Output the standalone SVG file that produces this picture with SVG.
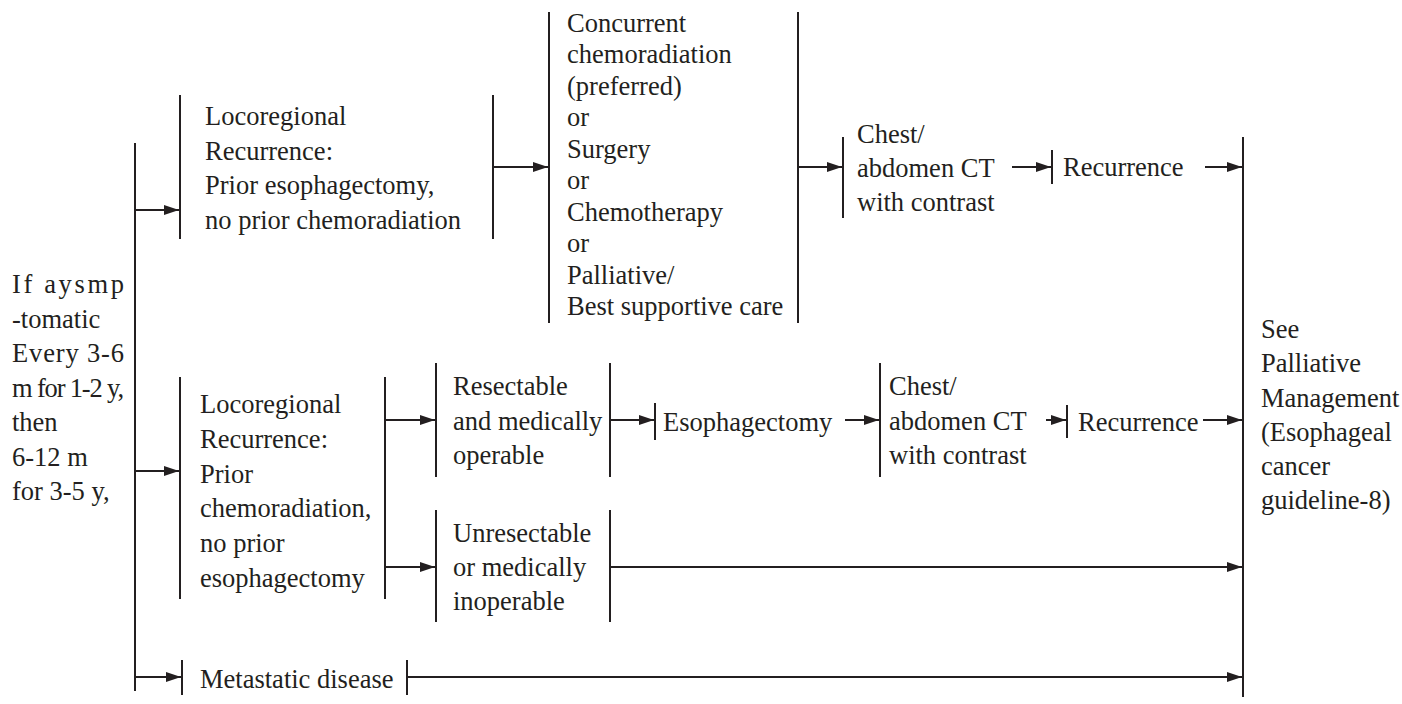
<svg xmlns="http://www.w3.org/2000/svg" width="1402" height="704" viewBox="0 0 1402 704" font-family="'Liberation Serif', 'Times New Roman', Tinos, 'DejaVu Serif', serif">
<style>
text{font-family:'Liberation Serif','Times New Roman',Tinos,'DejaVu Serif',serif;font-size:26.5px;fill:#231f20}
.bar{stroke:#231f20;stroke-width:2;fill:none}
.c{stroke:#231f20;stroke-width:2;fill:none;marker-end:url(#ah)}
.l{stroke:#231f20;stroke-width:2;fill:none}
</style>
<defs>
<marker id="ah" markerUnits="userSpaceOnUse" markerWidth="16" markerHeight="12" refX="15" refY="5" orient="auto">
<path d="M0,0 L15,5 L0,10 z" fill="#231f20"/>
</marker>
</defs>
<rect width="1402" height="704" fill="#fff"/>
<g id="connectors">
<line class="l" x1="135" y1="143" x2="135" y2="691"/>
<line class="c" x1="135" y1="210" x2="179" y2="210"/>
<line class="c" x1="493" y1="167" x2="548" y2="167"/>
<line class="c" x1="798" y1="167" x2="842" y2="167"/>
<line class="c" x1="1012" y1="167" x2="1051" y2="167"/>
<line class="c" x1="1205" y1="167" x2="1242" y2="167"/>
<line class="c" x1="135" y1="471" x2="179" y2="471"/>
<line class="c" x1="385" y1="420" x2="435" y2="420"/>
<line class="c" x1="385" y1="567" x2="435" y2="567"/>
<line class="c" x1="610" y1="420" x2="654" y2="420"/>
<line class="c" x1="845" y1="420" x2="879" y2="420"/>
<line class="c" x1="1046" y1="420" x2="1066" y2="420"/>
<line class="c" x1="1203" y1="420" x2="1242" y2="420"/>
<line class="c" x1="610" y1="567" x2="1242" y2="567"/>
<line class="c" x1="135" y1="677" x2="181" y2="677"/>
<line class="c" x1="407" y1="677" x2="1242" y2="677"/>
</g>
<g id="n-followup">
<text x="12" y="293" textLength="112" lengthAdjust="spacing">If aysmp</text>
<text x="12" y="328">-tomatic</text>
<text x="12" y="362" textLength="112" lengthAdjust="spacing">Every 3-6</text>
<text x="12" y="397" textLength="112" lengthAdjust="spacing">m for 1-2 y,</text>
<text x="12" y="431">then</text>
<text x="12" y="466">6-12 m</text>
<text x="12" y="500">for 3-5 y,</text>
</g>
<g id="n-loco1">
<line class="bar" x1="180" y1="95" x2="180" y2="239"/>
<line class="bar" x1="493" y1="95" x2="493" y2="239"/>
<text x="205" y="125">Locoregional</text>
<text x="205" y="160">Recurrence:</text>
<text x="205" y="194">Prior esophagectomy,</text>
<text x="205" y="229">no prior chemoradiation</text>
</g>
<g id="n-options">
<line class="bar" x1="549" y1="12" x2="549" y2="323"/>
<line class="bar" x1="798" y1="12" x2="798" y2="323"/>
<text x="567" y="32">Concurrent</text>
<text x="567" y="63">chemoradiation</text>
<text x="567" y="95">(preferred)</text>
<text x="567" y="126">or</text>
<text x="567" y="158">Surgery</text>
<text x="567" y="189">or</text>
<text x="567" y="221">Chemotherapy</text>
<text x="567" y="252">or</text>
<text x="567" y="284">Palliative/</text>
<text x="567" y="315">Best supportive care</text>
</g>
<g id="n-ct1">
<line class="bar" x1="843" y1="137" x2="843" y2="218"/>
<text x="857" y="143">Chest/</text>
<text x="857" y="177">abdomen CT</text>
<text x="857" y="211">with contrast</text>
</g>
<g id="n-rec1">
<line class="bar" x1="1052" y1="150" x2="1052" y2="184"/>
<text x="1063" y="176">Recurrence</text>
</g>
<g id="n-palliative">
<line class="bar" x1="1243" y1="137" x2="1243" y2="697"/>
<text x="1261" y="338">See</text>
<text x="1261" y="372">Palliative</text>
<text x="1261" y="407">Management</text>
<text x="1261" y="441">(Esophageal</text>
<text x="1261" y="475">cancer</text>
<text x="1261" y="509">guideline-8)</text>
</g>
<g id="n-loco2">
<line class="bar" x1="180" y1="377" x2="180" y2="599"/>
<line class="bar" x1="385" y1="377" x2="385" y2="599"/>
<text x="200" y="413">Locoregional</text>
<text x="200" y="448">Recurrence:</text>
<text x="200" y="483">Prior</text>
<text x="200" y="517">chemoradiation,</text>
<text x="200" y="552">no prior</text>
<text x="200" y="587">esophagectomy</text>
</g>
<g id="n-resectable">
<line class="bar" x1="436" y1="363" x2="436" y2="477"/>
<line class="bar" x1="610" y1="363" x2="610" y2="477"/>
<text x="453" y="395">Resectable</text>
<text x="453" y="430">and medically</text>
<text x="453" y="464">operable</text>
</g>
<g id="n-unresectable">
<line class="bar" x1="436" y1="510" x2="436" y2="622"/>
<line class="bar" x1="610" y1="510" x2="610" y2="622"/>
<text x="453" y="542">Unresectable</text>
<text x="453" y="576">or medically</text>
<text x="453" y="610">inoperable</text>
</g>
<g id="n-esophagectomy">
<line class="bar" x1="655" y1="403" x2="655" y2="440"/>
<text x="663" y="431">Esophagectomy</text>
</g>
<g id="n-ct2">
<line class="bar" x1="880" y1="363" x2="880" y2="477"/>
<text x="889" y="395">Chest/</text>
<text x="889" y="430">abdomen CT</text>
<text x="889" y="464">with contrast</text>
</g>
<g id="n-rec2">
<line class="bar" x1="1067" y1="405" x2="1067" y2="438"/>
<text x="1078" y="431">Recurrence</text>
</g>
<g id="n-metastatic">
<line class="bar" x1="182" y1="660" x2="182" y2="695"/>
<line class="bar" x1="407" y1="660" x2="407" y2="695"/>
<text x="200" y="688">Metastatic disease</text>
</g>
</svg>
